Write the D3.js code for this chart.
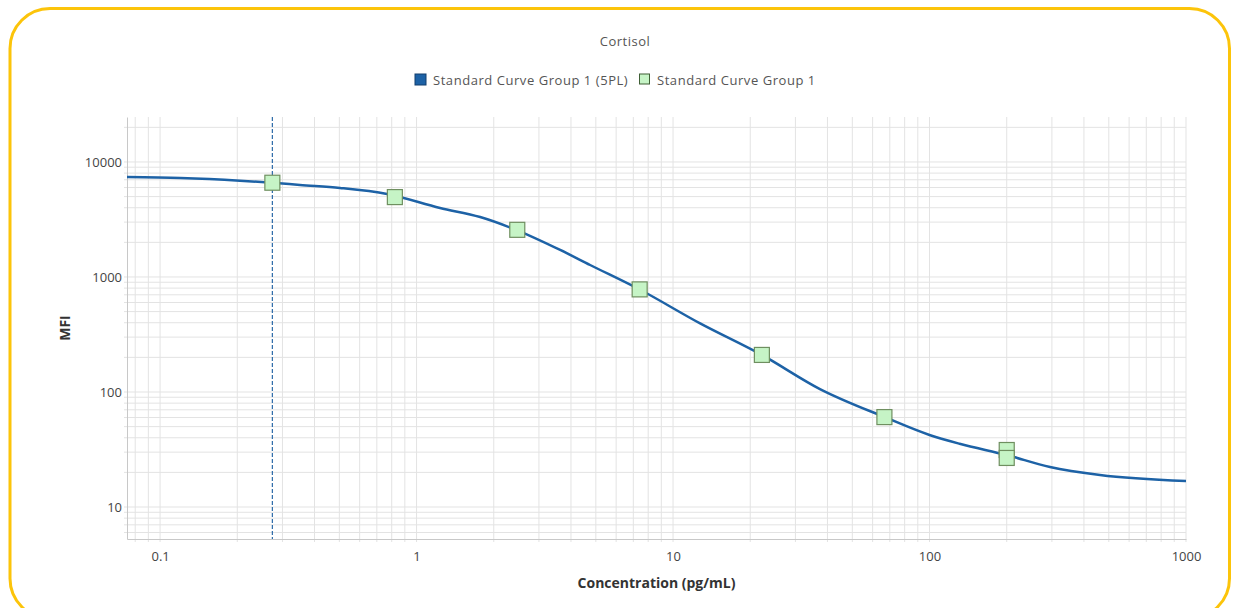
<!DOCTYPE html>
<html>
<head>
<meta charset="utf-8">
<script src="https://cdn.jsdelivr.net/npm/d3@7"></script>
<style>
  body { margin: 0; background: #fff; }
  text { font-family: "Open Sans", "Noto Sans", sans-serif; }
</style>
</head>
<body>
<div id="chart"></div>
<script>
// standard points (3-fold dilution)
const stdConc = [0.274, 0.823, 2.47, 7.41, 22.2, 66.7, 200, 200];
const stdMFI  = [6600, 4950, 2570, 780, 210, 60.5, 31.3, 26.7];

// fitted 5PL curve, sampled along the drawn line
const curveConc = [0.0743, 0.12, 0.205, 0.274, 0.351, 0.503, 0.767, 1.235, 1.77, 2.44, 3.63, 4.75, 7.41, 12.75, 22.2, 37.4, 66.7, 100, 131, 200, 295, 462, 1000];
const curveMFI  = [7400, 7260, 6880, 6600, 6310, 5940, 5270, 3980, 3320, 2570, 1718, 1271, 778, 395, 210, 106, 60.6, 42.3, 35.5, 28.3, 22.3, 19.0, 16.8];

const lloq = 0.274;

const xTicks = [0.1, 1, 10, 100, 1000];
const yTicks = [10, 100, 1000, 10000];

const W = 1236, H = 608;
const pLeft = 127, pRight = 1186, pTop = 117, pBottom = 539;

const svg = d3.select("#chart").append("svg")
  .attr("width", W).attr("height", H);

// rounded yellow frame
svg.append("rect")
  .attr("x", 10).attr("y", 8.5)
  .attr("width", 1219.5).attr("height", 610)
  .attr("rx", 40).attr("ry", 40)
  .attr("fill", "none")
  .attr("stroke", "#fcc40a")
  .attr("stroke-width", 3);

const x = d3.scaleLog().domain([0.0743, 1000]).range([pLeft, pRight]);
const y = d3.scaleLog().domain([5.27, 24600]).range([pBottom, pTop]);

// minor + major grid
const xGrid = [];
for (let e = -2; e <= 3; e++) for (let m = 1; m <= 9; m++) {
  const v = m * Math.pow(10, e);
  if (v >= x.domain()[0] && v <= 1000) xGrid.push(v);
}
const yGrid = [];
for (let e = 0; e <= 4; e++) for (let m = 1; m <= 9; m++) {
  const v = m * Math.pow(10, e);
  if (v >= y.domain()[0] && v <= y.domain()[1]) yGrid.push(v);
}

svg.append("g").selectAll("line").data(xGrid).enter().append("line")
  .attr("x1", d => x(d)).attr("x2", d => x(d))
  .attr("y1", pTop).attr("y2", pBottom + 3)
  .attr("stroke", "#e3e3e3").attr("stroke-width", 1);

svg.append("g").selectAll("line").data(yGrid).enter().append("line")
  .attr("x1", pLeft - 3).attr("x2", pRight)
  .attr("y1", d => y(d)).attr("y2", d => y(d))
  .attr("stroke", "#e3e3e3").attr("stroke-width", 1);

// axes
const xAxis = d3.axisBottom(x).tickValues(xTicks).tickFormat(d => String(d)).tickSize(0).tickPadding(13);
const gx = svg.append("g").attr("transform", "translate(0," + pBottom + ")").call(xAxis);
gx.select(".domain").attr("stroke", "#c8c8c8");
gx.selectAll("text").attr("font-size", 13).attr("fill", "#444");

const yAxis = d3.axisLeft(y).tickValues(yTicks).tickFormat(d => String(d)).tickSize(0).tickPadding(5);
const gy = svg.append("g").attr("transform", "translate(" + pLeft + ",0)").call(yAxis);
gy.select(".domain").attr("stroke", "#c8c8c8");
gy.selectAll("text").attr("font-size", 13).attr("fill", "#444");

// LLOQ dashed line
svg.append("line")
  .attr("x1", x(lloq)).attr("x2", x(lloq))
  .attr("y1", pTop).attr("y2", pBottom)
  .attr("stroke", "#2c6aa8").attr("stroke-width", 1.2)
  .attr("stroke-dasharray", "4,2");

// curve
const line = d3.line()
  .x((d, i) => x(curveConc[i]))
  .y((d, i) => y(curveMFI[i]))
  .curve(d3.curveMonotoneX);

svg.append("path")
  .attr("d", line(curveConc))
  .attr("fill", "none")
  .attr("stroke", "#1d62a6")
  .attr("stroke-width", 2.5);

// standard markers
const s = 15;
svg.append("g").selectAll("rect").data(stdConc).enter().append("rect")
  .attr("x", (d, i) => x(d) - s / 2)
  .attr("y", (d, i) => y(stdMFI[i]) - s / 2)
  .attr("width", s).attr("height", s)
  .attr("fill", "#c6f4c6")
  .attr("stroke", "#6f8f60")
  .attr("stroke-width", 1.2);

// title
svg.append("text")
  .attr("x", 625).attr("y", 46)
  .attr("text-anchor", "middle")
  .attr("font-size", 13).attr("letter-spacing", 0.5).attr("fill", "#555")
  .text("Cortisol");

// legend
const leg = svg.append("g");
leg.append("rect").attr("x", 415).attr("y", 74).attr("width", 11).attr("height", 11)
  .attr("fill", "#1d62a6").attr("stroke", "#123f6e");
leg.append("text").attr("x", 433).attr("y", 84.5)
  .attr("font-size", 13).attr("letter-spacing", 0.55).attr("fill", "#555")
  .text("Standard Curve Group 1 (5PL)");
leg.append("rect").attr("x", 639.5).attr("y", 74).attr("width", 10).attr("height", 10)
  .attr("fill", "#c6f4c6").attr("stroke", "#3f5f35");
leg.append("text").attr("x", 657).attr("y", 84.5)
  .attr("font-size", 13).attr("letter-spacing", 0.55).attr("fill", "#555")
  .text("Standard Curve Group 1");

// axis titles
svg.append("text")
  .attr("x", (pLeft + pRight) / 2).attr("y", 588)
  .attr("text-anchor", "middle")
  .attr("font-size", 14).attr("font-weight", "bold").attr("fill", "#333")
  .text("Concentration (pg/mL)");

svg.append("text")
  .attr("transform", "translate(70," + (pTop + pBottom) / 2 + ") rotate(-90)")
  .attr("text-anchor", "middle")
  .attr("font-size", 14).attr("font-weight", "bold").attr("fill", "#333")
  .text("MFI");
</script>
</body>
</html>
